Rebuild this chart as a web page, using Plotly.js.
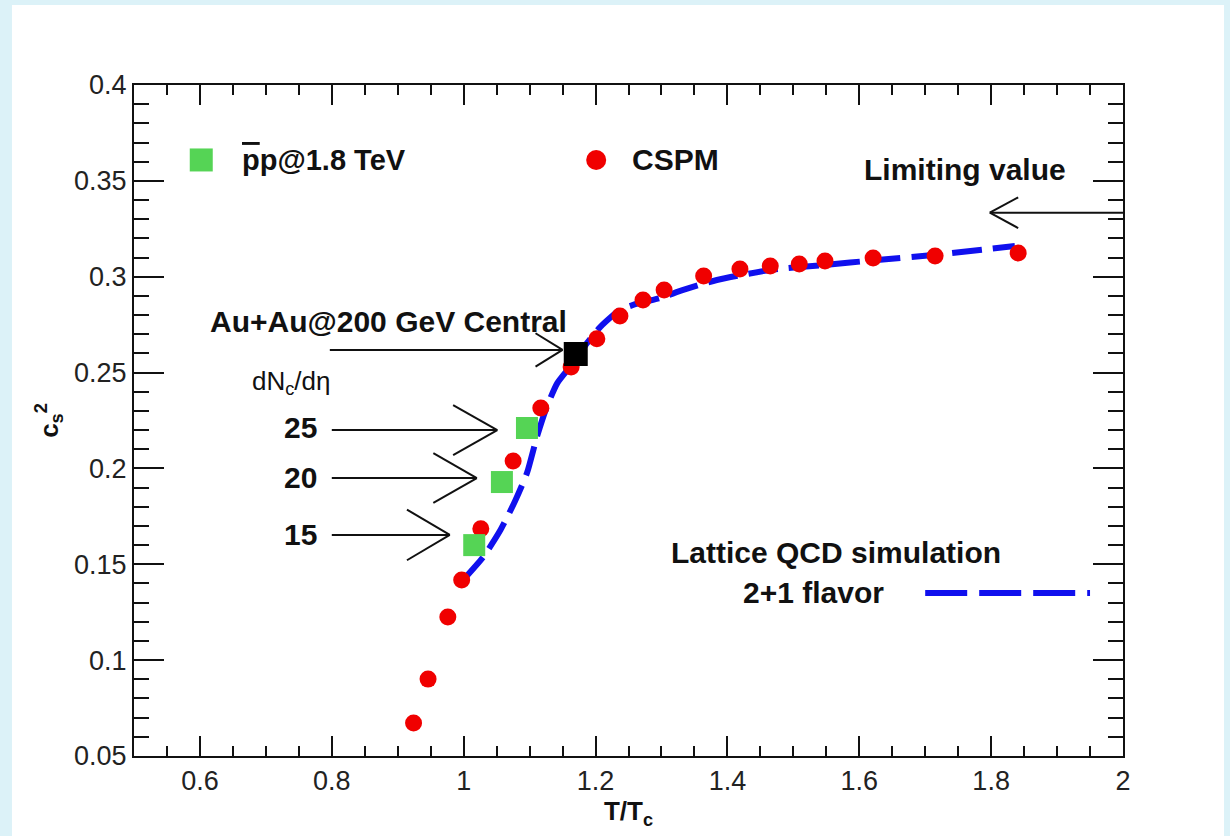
<!DOCTYPE html>
<html>
<head>
<meta charset="utf-8">
<script src="https://cdn.plot.ly/plotly-3.0.1.min.js"></script>
<style>
  html, body { margin: 0; padding: 0; background: #dcf2f8; }
  #chart { width: 1230px; height: 836px; }
</style>
</head>
<body>
<div id="chart"></div>
<script>
// ---- Data ----
var cspmT   = [0.924, 0.946, 0.976, 0.997, 1.026, 1.075, 1.117, 1.163, 1.202, 1.237, 1.272, 1.304, 1.364, 1.419, 1.465, 1.509, 1.548, 1.621, 1.715, 1.841];
var cspmCs2 = [0.0672, 0.0901, 0.1225, 0.1418, 0.1685, 0.2039, 0.2315, 0.2529, 0.2677, 0.2795, 0.2878, 0.2931, 0.3004, 0.3040, 0.3056, 0.3066, 0.3082, 0.3098, 0.3108, 0.3124];

var ppT   = [1.016, 1.058, 1.096];
var ppCs2 = [0.160, 0.1929, 0.2211];
var ppLabels = ['15', '20', '25'];

var auauT   = [1.170];
var auauCs2 = [0.2597];

var latticeT   = [0.999, 1.030, 1.056, 1.078, 1.096, 1.111, 1.126, 1.142, 1.161, 1.187, 1.207, 1.237, 1.267, 1.298, 1.333, 1.384, 1.465, 1.545, 1.627, 1.712, 1.836];
var latticeCs2 = [0.1418, 0.1540, 0.1680, 0.1830, 0.1976, 0.2164, 0.2320, 0.2445, 0.2529, 0.2654, 0.2737, 0.2826, 0.2863, 0.2889, 0.2931, 0.2983, 0.3035, 0.3061, 0.3087, 0.3113, 0.3160];

// legend symbols drawn inside the frame
var legendSampleT   = [1.70, 1.95];
var legendSampleCs2 = [0.135, 0.135];
var legendPpT = [0.602], legendPpCs2 = [0.3609];
var legendCspmT = [1.201], legendCspmCs2 = [0.3609];

var xTicks = [0.6, 0.8, 1, 1.2, 1.4, 1.6, 1.8, 2];
var yTicks = [0.05, 0.1, 0.15, 0.2, 0.25, 0.3, 0.35, 0.4];

var FONT = 'Liberation Sans, Arial, Helvetica, sans-serif';

var traces = [
  { x: latticeT, y: latticeCs2, mode: 'lines', line: { color: '#1010ee', width: 6, dash: '30px,11px', shape: 'spline', smoothing: 0.6 }, hoverinfo: 'skip' },
  { x: cspmT, y: cspmCs2, mode: 'markers', marker: { color: '#f00000', size: 17, symbol: 'circle' } },
  { x: ppT, y: ppCs2, mode: 'markers', marker: { color: '#55d455', size: 22, symbol: 'square' } },
  { x: auauT, y: auauCs2, mode: 'markers', marker: { color: '#000000', size: 24, symbol: 'square' } },
  { x: legendSampleT, y: legendSampleCs2, mode: 'lines', line: { color: '#1010ee', width: 6, dash: '42px,12px' } },
  { x: legendPpT, y: legendPpCs2, mode: 'markers', marker: { color: '#55d455', size: 23, symbol: 'square' } },
  { x: legendCspmT, y: legendCspmCs2, mode: 'markers', marker: { color: '#f00000', size: 20, symbol: 'circle' } }
];

// arrows (open V heads)
function arrow(xStart, xTip, y, xWing, dy) {
  var s = { type: 'line', xref: 'x', yref: 'y', line: { color: '#111', width: 2 } };
  return [
    Object.assign({}, s, { x0: xStart, x1: xTip, y0: y, y1: y }),
    Object.assign({}, s, { x0: xWing, x1: xTip, y0: y + dy, y1: y }),
    Object.assign({}, s, { x0: xWing, x1: xTip, y0: y - dy, y1: y })
  ];
}

var shapes = [
  { type: 'rect', xref: 'paper', yref: 'paper', x0: -0.1234, x1: 1.1021, y0: -0.13, y1: 1.1192,
    fillcolor: '#ffffff', line: { width: 0 }, layer: 'below' }
].concat(
  arrow(0.797, 1.150, 0.2618, 1.109, 0.0087),
  arrow(0.800, 1.051, 0.2200, 0.984, 0.0130),
  arrow(0.800, 1.020, 0.1950, 0.954, 0.0130),
  arrow(0.800, 0.979, 0.1653, 0.914, 0.0132),
  arrow(2.000, 1.798, 0.3334, 1.841, 0.0080)
);

function ann(text, x, y, xanchor, size, bold) {
  return { text: bold === false ? text : '<b>' + text + '</b>', x: x, y: y, xref: 'x', yref: 'y',
    xanchor: xanchor, yanchor: 'middle', showarrow: false,
    font: { family: FONT, size: size, color: '#111' } };
}

var annotations = [
  ann('<span style="text-decoration:overline">p</span>p@1.8 TeV', 0.661, 0.3609, 'left', 29),
  ann('CSPM', 1.252, 0.3609, 'left', 30),
  ann('Limiting value', 1.760, 0.3557, 'center', 30),
  ann('Au+Au@200 GeV Central', 0.612, 0.2764, 'left', 30),
  ann('dN<sub>c</sub>/dη', 0.676, 0.2450, 'left', 26, false),
  ann(ppLabels[2], 0.752, 0.2211, 'center', 30),
  ann(ppLabels[1], 0.752, 0.1955, 'center', 30),
  ann(ppLabels[0], 0.752, 0.1653, 'center', 30),
  ann('Lattice QCD simulation', 1.565, 0.1564, 'center', 30),
  ann('2+1 flavor', 1.530, 0.1355, 'center', 30)
];

var axisCommon = {
  showgrid: false, zeroline: false, showline: true, linecolor: '#111', linewidth: 2,
  mirror: 'allticks', ticks: 'inside', tickcolor: '#111', tickwidth: 2,
  tickfont: { family: FONT, size: 27, color: '#222' }
};

var layout = {
  width: 1230, height: 836,
  margin: { l: 134, r: 107, t: 85, b: 80 },
  paper_bgcolor: '#dcf2f8', plot_bgcolor: 'rgba(0,0,0,0)',
  showlegend: false,
  xaxis: Object.assign({}, axisCommon, {
    range: [0.5, 2], tickvals: xTicks, ticklen: 20,
    minor: { dtick: 0.05, tick0: 0.5, ticks: 'inside', ticklen: 10, tickcolor: '#111', tickwidth: 2, showgrid: false },
    title: { text: '<b>T/T<sub>c</sub></b>', font: { family: FONT, size: 26, color: '#111' }, standoff: 2 }
  }),
  yaxis: Object.assign({}, axisCommon, {
    range: [0.05, 0.4], tickvals: yTicks, ticklen: 30,
    minor: { dtick: 0.01, tick0: 0.05, ticks: 'inside', ticklen: 15, tickcolor: '#111', tickwidth: 2, showgrid: false },
    title: { text: '<b>c<sub>s</sub><sup>2</sup></b>', font: { family: FONT, size: 26, color: '#111' }, standoff: 8 }
  }),
  shapes: shapes,
  annotations: annotations
};

Plotly.newPlot('chart', traces, layout, { displayModeBar: false, staticPlot: true });
</script>
</body>
</html>
